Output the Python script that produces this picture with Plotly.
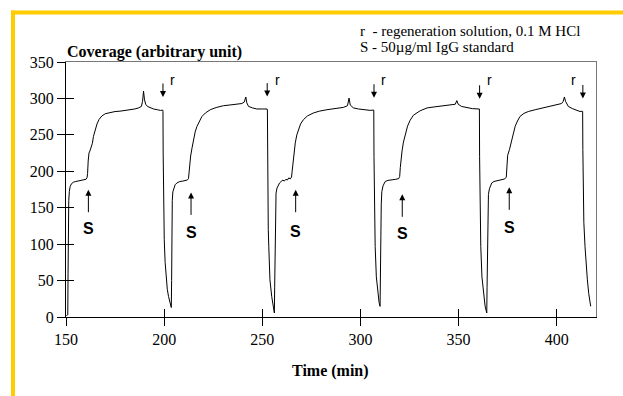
import plotly.graph_objects as go

# ---------------- data ----------------
# cycle 1 (baseline build-up, standard injection, plateau)
t1 = [150.2, 150.9, 151.05, 151.2, 151.4, 151.7, 152.1, 152.8, 153.8, 155.0, 156.5, 158.0, 159.2,
      160.2, 160.7, 161.0, 161.3, 161.7, 162.2, 162.8, 163.4, 164.0, 164.8, 165.8, 166.8, 168.3,
      170.0, 172.6, 175.0, 177.5, 180.0, 182.5, 185.0, 187.0, 188.4, 189.0, 189.5, 190.0, 190.6,
      191.5, 193.0, 194.6, 196.5, 198.2, 199.3]
c1 = [2, 3, 60, 130, 160, 172, 179, 183, 185, 186, 187, 187.5, 188.5,
      189, 191, 197, 214, 225, 228, 232, 238, 248, 257, 265, 271, 276,
      279, 281, 282, 282.5, 283.5, 284, 285.5, 287, 289, 296, 310, 298, 292,
      289, 287, 285.5, 284.5, 283.5, 284]
# regeneration 1 + cycle 2
t2 = [199.4, 199.5, 199.65, 199.85, 200.05, 200.5, 201.05, 201.6, 202.25, 202.9, 203.5, 203.65,
      203.8, 203.95, 204.15, 204.45, 205.0, 205.6, 206.5, 208.0, 209.5, 210.8, 211.8, 212.4,
      212.7, 213.0, 213.5, 214.2, 215.0, 215.8, 216.7, 217.8, 219.2, 221.0, 223.5, 226.5,
      230.2, 233.5, 236.5, 239.6, 240.8, 241.6, 242.1, 243.0, 245.0, 247.2, 250.0, 252.45]
c2 = [282, 225, 170, 130, 106, 75, 51, 38, 28, 20, 14, 13,
      50, 120, 160, 172, 178, 181.5, 184, 186, 186.5, 187.5, 188, 190,
      198, 214, 221, 232, 245, 254, 261.5, 268, 275, 280, 284.5, 287.5,
      290, 291, 291.5, 293, 295, 302, 294, 289, 287, 285.5, 285.5, 285.5]
# regeneration 2 + cycle 3
t3 = [252.6, 252.7, 252.85, 253.05, 253.3, 253.9, 254.8, 255.5, 256.0, 256.15, 256.3, 256.5,
      256.7, 257.0, 257.5, 258.2, 258.8, 259.6, 260.5, 261.2, 262.0, 262.8, 263.5, 264.2,
      264.9, 265.2, 265.6, 266.0, 266.8, 267.6, 268.4, 269.5, 271.0, 273.0, 276.0, 279.0,
      282.9, 287.0, 291.3, 293.4, 294.2, 294.8, 296.4, 299.0, 302.0, 305.0, 306.7]
c3 = [284, 220, 160, 120, 97, 51, 28, 14, 7, 5.5, 40, 110,
      150, 170, 177, 181, 184, 186, 188, 186.5, 189, 188, 191, 189.5,
      192, 200, 212, 217, 239, 250, 257, 265, 271, 276, 280, 282.5,
      284.5, 286, 287.7, 290, 300.5, 291, 287, 285.5, 284.5, 283.6, 284]
# regeneration 3 + cycle 4
t4 = [306.8, 306.9, 307.05, 307.25, 307.5, 308.1, 308.8, 309.5, 310.0, 310.2, 310.4, 310.6,
      310.9, 311.5, 312.6, 314.0, 316.0, 318.0, 319.5, 320.0, 320.3, 320.7, 321.2, 321.9,
      323.0, 324.0, 325.3, 327.0, 330.4, 334.0, 338.0, 342.0, 346.0, 348.3, 349.1, 349.8,
      351.5, 354.0, 357.0, 360.45]
c4 = [284, 220, 160, 120, 97, 55, 32, 20, 14.6, 40, 110, 155,
      172, 180, 186, 187.5, 188, 189, 190, 193, 205, 217, 228, 240,
      252, 262, 270, 277, 283, 287, 288.5, 290, 291, 292, 297, 292,
      289, 287.5, 286, 285.5]
# regeneration 4 + cycle 5
t5 = [360.6, 360.7, 360.85, 361.05, 361.3, 361.9, 362.7, 363.5, 364.2, 364.35, 364.5, 364.7,
      364.9, 365.2, 365.7, 366.9, 368.0, 370.0, 372.0, 373.5, 374.3, 374.6, 375.0, 375.9,
      377.0, 378.0, 378.8, 380.0, 381.3, 383.3, 385.5, 389.0, 393.2, 397.0, 400.8, 402.5,
      403.3, 403.9, 404.5, 405.9, 408.0, 410.0, 411.9, 413.1]
c5 = [285.5, 220, 160, 120, 97, 55, 30, 15, 7, 5.5, 40, 110,
      150, 168, 176, 184, 186, 187.5, 188.5, 189.5, 192, 205, 222, 229.6,
      243, 253, 261.6, 269, 275.3, 279.5, 282, 284.5, 287, 289, 291.4, 293,
      296, 302, 296, 289, 286, 284, 282, 282.5]
# regeneration 5 (end of record)
t6 = [413.2, 413.3, 413.5, 413.8, 414.4, 415.0, 415.6, 416.3, 416.9, 417.3]
c6 = [282, 230, 170, 130, 97, 70, 51, 32, 20, 14.6]

time_min = t1 + t2 + t3 + t4 + t5 + t6
coverage = c1 + c2 + c3 + c4 + c5 + c6

x_ticks = [150, 200, 250, 300, 350, 400]
y_ticks = [0, 50, 100, 150, 200, 250, 300, 350]

# event markers
regen_times = [199.4, 252.5, 306.9, 360.7, 413.3]
regen_arrow_cov = [302, 302.5, 301, 299.5, 300]
regen_text_cov = 325.7
standard_times = [161.4, 213.7, 267.0, 321.3, 375.8]
standard_arrow_cov = [174.7, 171, 174.7, 168.4, 178]
standard_text_cov = [120.8, 116, 118, 114.9, 122.9]

legend_lines = ["r  - regeneration solution, 0.1 M HCl", "S - 50\u00b5g/ml IgG standard"]
y_title = "Coverage (arbitrary unit)"
x_title = "Time (min)"

# ---------------- figure ----------------
W, H = 623, 396
ML, MR, MT, MB = 66, 27, 62, 79
PW, PH = W - ML - MR, H - MT - MB


def px_x(p):
    return (p - ML) / PW


def px_y(p):
    return (H - MB - p) / PH


SERIF = "Liberation Serif, Times New Roman, serif"
SANS = "Liberation Sans, Arial, sans-serif"

fig = go.Figure()
fig.add_trace(go.Scatter(x=time_min, y=coverage, mode="lines",
                         line=dict(color="black", width=1), showlegend=False, hoverinfo="skip"))
fig.add_trace(go.Scatter(x=[], y=[], xaxis="x2", yaxis="y2", showlegend=False))
fig.add_trace(go.Scatter(x=[], y=[], xaxis="x3", yaxis="y3", showlegend=False))

xr = [150, 420]
yr = [0, 350]
common = dict(showgrid=False, zeroline=False)

fig.update_layout(
    width=W, height=H,
    margin=dict(l=ML, r=MR, t=MT, b=MB),
    paper_bgcolor="white", plot_bgcolor="white",
    xaxis=dict(range=xr, tickmode="array", tickvals=x_ticks, ticks="outside", ticklen=8,
               tickwidth=1, tickcolor="black", showline=True, linecolor="black", linewidth=1.3,
               tickfont=dict(family=SERIF, size=16, color="black"), anchor="y", **common),
    yaxis=dict(range=yr, tickmode="array", tickvals=y_ticks, ticks="outside", ticklen=8,
               tickwidth=1, tickcolor="black", showline=True, linecolor="black", linewidth=1.3,
               tickfont=dict(family=SERIF, size=16, color="black"), anchor="x", **common),
    xaxis2=dict(range=xr, overlaying="x", anchor="y2", tickmode="array", tickvals=x_ticks,
                ticks="inside", ticklen=8, tickwidth=1, tickcolor="black",
                showticklabels=False, showline=False, **common),
    yaxis2=dict(range=yr, overlaying="y", anchor="x2", tickmode="array", tickvals=y_ticks,
                ticks="inside", ticklen=8, tickwidth=1, tickcolor="black",
                showticklabels=False, showline=False, **common),
    xaxis3=dict(range=xr, overlaying="x", anchor="y3", side="top", ticks="",
                showticklabels=False, showline=True, linecolor="#777777", linewidth=1, **common),
    yaxis3=dict(range=yr, overlaying="y", anchor="x3", side="right", ticks="",
                showticklabels=False, showline=True, linecolor="#777777", linewidth=1, **common),
)

ann = []
# axis titles
ann.append(dict(text="<b>%s</b>" % y_title, xref="paper", yref="paper", x=px_x(65), y=px_y(51.7),
                xanchor="left", yanchor="middle", showarrow=False,
                font=dict(family=SERIF, size=16, color="black")))
ann.append(dict(text="<b>%s</b>" % x_title, xref="paper", yref="paper", x=px_x(330), y=px_y(371),
                xanchor="center", yanchor="middle", showarrow=False,
                font=dict(family=SERIF, size=16, color="black")))
# legend text
for line, yc in zip(legend_lines, [31, 47]):
    ann.append(dict(text=line, xref="paper", yref="paper", x=px_x(358), y=px_y(yc),
                    xanchor="left", yanchor="middle", showarrow=False,
                    font=dict(family=SERIF, size=15, color="black")))
# regeneration arrows and labels
for i, (t, c) in enumerate(zip(regen_times, regen_arrow_cov)):
    ann.append(dict(text="", x=t, y=c, xref="x", yref="y", showarrow=True, ax=0, ay=-15,
                    arrowhead=2, arrowsize=1.2, arrowwidth=1, arrowcolor="black"))
    shift = -9 if i == len(regen_times) - 1 else 10
    ann.append(dict(text="r", x=t, y=regen_text_cov, xref="x", yref="y", xshift=shift,
                    showarrow=False, font=dict(family=SANS, size=14, color="black")))
# standard injection arrows and labels
for t, c, ct in zip(standard_times, standard_arrow_cov, standard_text_cov):
    ann.append(dict(text="", x=t, y=c, xref="x", yref="y", showarrow=True, ax=0, ay=24,
                    arrowhead=2, arrowsize=1.2, arrowwidth=1, arrowcolor="black"))
    ann.append(dict(text="<b>S</b>", x=t, y=ct, xref="x", yref="y", showarrow=False,
                    font=dict(family=SANS, size=16, color="black")))
fig.update_layout(annotations=ann)

# yellow slide frame (top and left)
GOLD = "#FFCC00"
fig.add_shape(type="line", xref="paper", yref="paper", x0=px_x(11), x1=px_x(630),
              y0=px_y(12.5), y1=px_y(12.5), line=dict(color=GOLD, width=4))
fig.add_shape(type="line", xref="paper", yref="paper", x0=px_x(13), x1=px_x(13),
              y0=px_y(10.5), y1=px_y(400), line=dict(color=GOLD, width=4))

fig.write_html("out.html", config={"displayModeBar": False},
               post_script="document.body.style.margin='0px';")
